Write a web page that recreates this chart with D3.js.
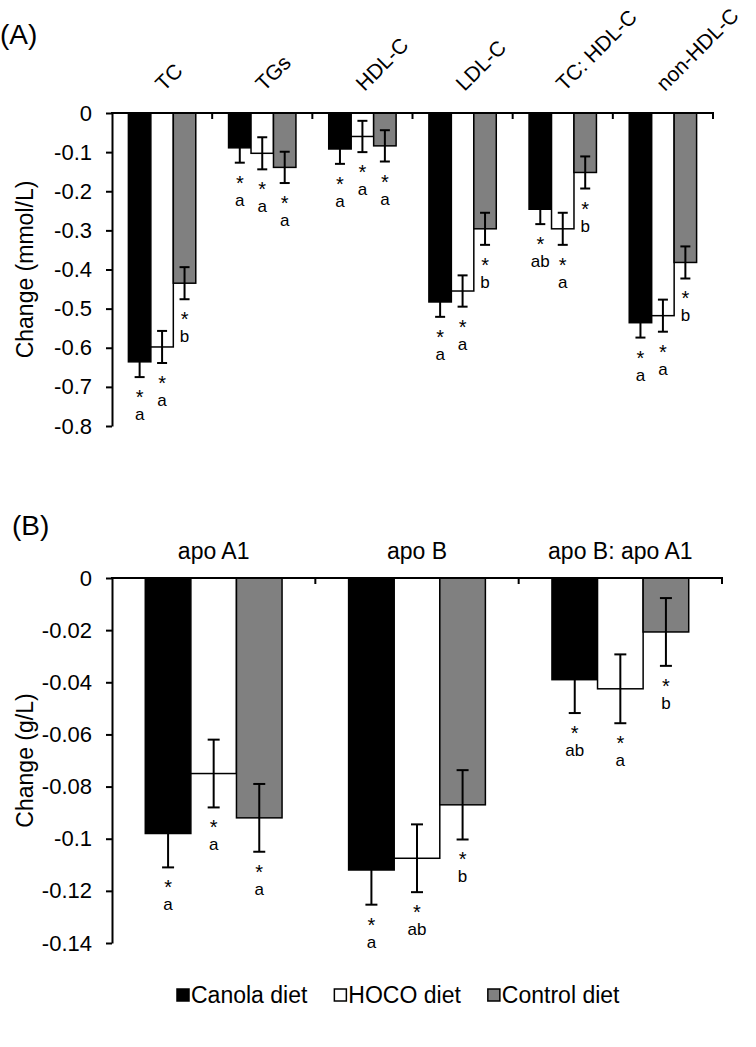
<!DOCTYPE html>
<html><head><meta charset="utf-8">
<script src="https://cdn.jsdelivr.net/npm/d3@7"></script>
<style>body{margin:0;background:#fff} text{font-family:Arial,"Liberation Sans",sans-serif;fill:#000}</style>
</head><body><svg id="c" width="756" height="1047"></svg>
<script>
// ---------- data ----------
const series = ["Canola diet", "HOCO diet", "Control diet"];
const seriesColors = ["#000000", "#ffffff", "#808080"];

const catsA = ["TC", "TGs", "HDL-C", "LDL-C", "TC: HDL-C", "non-HDL-C"];
const canolaA  = [-0.636, -0.089, -0.092, -0.483, -0.246, -0.536];
const hocoA    = [-0.598, -0.103, -0.060, -0.455, -0.296, -0.518];
const controlA = [-0.435, -0.139, -0.084, -0.296, -0.152, -0.382];
const errCanolaA  = [0.039, 0.038, 0.038, 0.038, 0.038, 0.038];
const errHocoA    = [0.041, 0.041, 0.040, 0.040, 0.041, 0.041];
const errControlA = [0.041, 0.040, 0.040, 0.041, 0.041, 0.041];
const sigCanolaA  = ["a", "a", "a", "a", "ab", "a"];
const sigHocoA    = ["a", "a", "a", "a", "a", "a"];
const sigControlA = ["b", "a", "a", "b", "b", "b"];
const ticksA = [0, -0.1, -0.2, -0.3, -0.4, -0.5, -0.6, -0.7, -0.8];
const tickLabelsA = ["0", "-0.1", "-0.2", "-0.3", "-0.4", "-0.5", "-0.6", "-0.7", "-0.8"];

const catsB = ["apo A1", "apo B", "apo B: apo A1"];
const canolaB  = [-0.098, -0.112, -0.039];
const hocoB    = [-0.075, -0.1075, -0.0425];
const controlB = [-0.092, -0.087, -0.0207];
const errCanolaB  = [0.013, 0.0133, 0.0128];
const errHocoB    = [0.013, 0.013, 0.0132];
const errControlB = [0.013, 0.0133, 0.013];
const sigCanolaB  = ["a", "a", "ab"];
const sigHocoB    = ["a", "ab", "a"];
const sigControlB = ["a", "b", "b"];
const ticksB = [0, -0.02, -0.04, -0.06, -0.08, -0.1, -0.12, -0.14];
const tickLabelsB = ["0", "-0.02", "-0.04", "-0.06", "-0.08", "-0.1", "-0.12", "-0.14"];

// ---------- drawing ----------
const svg = d3.select("#c");

function drawPanel(o) {
  const g = svg.append("g");
  const x0 = d3.scaleBand().domain(o.cats).range([o.left, o.right]).padding(0);
  const x1 = d3.scaleBand().domain(series).range([0, x0.bandwidth()]).paddingInner(0).paddingOuter(0.73);
  const y = d3.scaleLinear().domain([0, o.min]).range([o.top, o.bottom]);
  const vals = [o.canola, o.hoco, o.control];
  const errs = [o.errC, o.errH, o.errK];
  const sigs = [o.sigC, o.sigH, o.sigK];
  const rows = [];
  o.cats.forEach((c, i) => series.forEach((s, j) => rows.push({c, s, j, v: vals[j][i], e: errs[j][i], sig: sigs[j][i]})));

  // bars
  g.selectAll("rect.bar").data(rows).join("rect").attr("class", "bar")
    .attr("x", d => x0(d.c) + x1(d.s))
    .attr("y", y(0))
    .attr("width", x1.bandwidth())
    .attr("height", d => y(d.v) - y(0))
    .attr("fill", d => seriesColors[d.j])
    .attr("stroke", "#000").attr("stroke-width", 1.5);

  // error bars
  const cap = o.cap;
  const eb = g.selectAll("g.eb").data(rows).join("g").attr("class", "eb")
    .attr("transform", d => `translate(${x0(d.c) + x1(d.s) + x1.bandwidth() / 2},0)`);
  eb.append("line").attr("x1", 0).attr("x2", 0)
    .attr("y1", d => y(d.v + d.e)).attr("y2", d => y(d.v - d.e))
    .attr("stroke", "#000").attr("stroke-width", 2);
  eb.append("line").attr("x1", -cap / 2).attr("x2", cap / 2)
    .attr("y1", d => y(d.v + d.e)).attr("y2", d => y(d.v + d.e))
    .attr("stroke", "#000").attr("stroke-width", 2);
  eb.append("line").attr("x1", -cap / 2).attr("x2", cap / 2)
    .attr("y1", d => y(d.v - d.e)).attr("y2", d => y(d.v - d.e))
    .attr("stroke", "#000").attr("stroke-width", 2);
  const st = eb.append("text").attr("text-anchor", "middle")
    .attr("y", d => y(d.v - d.e) + 27);
  st.append("tspan").attr("x", 0).attr("font-size", 20).text("*");
  st.append("tspan").attr("x", 0).attr("dy", 16).attr("font-size", 17).text(d => d.sig);

  // y axis
  const yAxis = d3.axisLeft(y).tickValues(o.ticks).tickSize(6).tickSizeOuter(0).tickPadding(14)
    .tickFormat((d, i) => o.tickLabels[i]);
  const ya = g.append("g").attr("transform", `translate(${o.left},0)`).call(yAxis);
  ya.selectAll("path,line").attr("stroke", "#000").attr("stroke-width", 2);
  ya.selectAll("text").attr("font-size", 22).attr("font-family", "Arial, 'Liberation Sans', sans-serif").attr("fill", "#000");

  // x axis at zero
  const bounds = o.cats.map(c => x0(c) + x0.bandwidth());
  g.append("line").attr("x1", o.left - 1).attr("x2", o.right + 1).attr("y1", y(0)).attr("y2", y(0))
    .attr("stroke", "#000").attr("stroke-width", 2);
  g.selectAll("line.xt").data(bounds).join("line").attr("class", "xt")
    .attr("x1", d => d).attr("x2", d => d).attr("y1", y(0)).attr("y2", y(0) + 6)
    .attr("stroke", "#000").attr("stroke-width", 2);

  // category labels
  if (o.rotate) {
    g.selectAll("text.cat").data(o.cats).join("text").attr("class", "cat")
      .attr("font-size", 21)
      .attr("transform", c => `translate(${x0(c) + x0.bandwidth() / 2 + 2},${o.top - 21}) rotate(-45)`)
      .text(c => c);
  } else {
    g.selectAll("text.cat").data(o.cats).join("text").attr("class", "cat")
      .attr("font-size", 23).attr("text-anchor", "middle")
      .attr("x", c => x0(c) + x0.bandwidth() / 2).attr("y", o.top - 19)
      .text(c => c);
  }

  // y label
  g.append("text").attr("font-size", 23).attr("text-anchor", "middle")
    .attr("transform", `translate(33,${(o.top + o.bottom) / 2}) rotate(-90)`)
    .text(o.ylabel);
  // panel letter
  g.append("text").attr("font-size", 28).attr("x", o.letterX).attr("y", o.letterY).text(o.letter);
}

drawPanel({
  cats: catsA, canola: canolaA, hoco: hocoA, control: controlA,
  errC: errCanolaA, errH: errHocoA, errK: errControlA,
  sigC: sigCanolaA, sigH: sigHocoA, sigK: sigControlA,
  ticks: ticksA, tickLabels: tickLabelsA, min: -0.8,
  left: 112, right: 713, top: 113, bottom: 426, cap: 10, rotate: true,
  ylabel: "Change (mmol/L)", letter: "(A)", letterX: 0, letterY: 44
});

drawPanel({
  cats: catsB, canola: canolaB, hoco: hocoB, control: controlB,
  errC: errCanolaB, errH: errHocoB, errK: errControlB,
  sigC: sigCanolaB, sigH: sigHocoB, sigK: sigControlB,
  ticks: ticksB, tickLabels: tickLabelsB, min: -0.14,
  left: 112, right: 722, top: 578, bottom: 943, cap: 12, rotate: false,
  ylabel: "Change (g/L)", letter: "(B)", letterX: 12, letterY: 535
});

// legend
const leg = svg.append("g");
let lx = 177;
series.forEach((s, j) => {
  leg.append("rect").attr("x", lx).attr("y", 989).attr("width", 12).attr("height", 12)
    .attr("fill", seriesColors[j]).attr("stroke", "#000").attr("stroke-width", 1.5);
  const t = leg.append("text").attr("font-size", 23).attr("x", lx + 14).attr("y", 1003).text(s);
  lx += 14 + t.node().getComputedTextLength() + 27;
});
</script></body></html>
